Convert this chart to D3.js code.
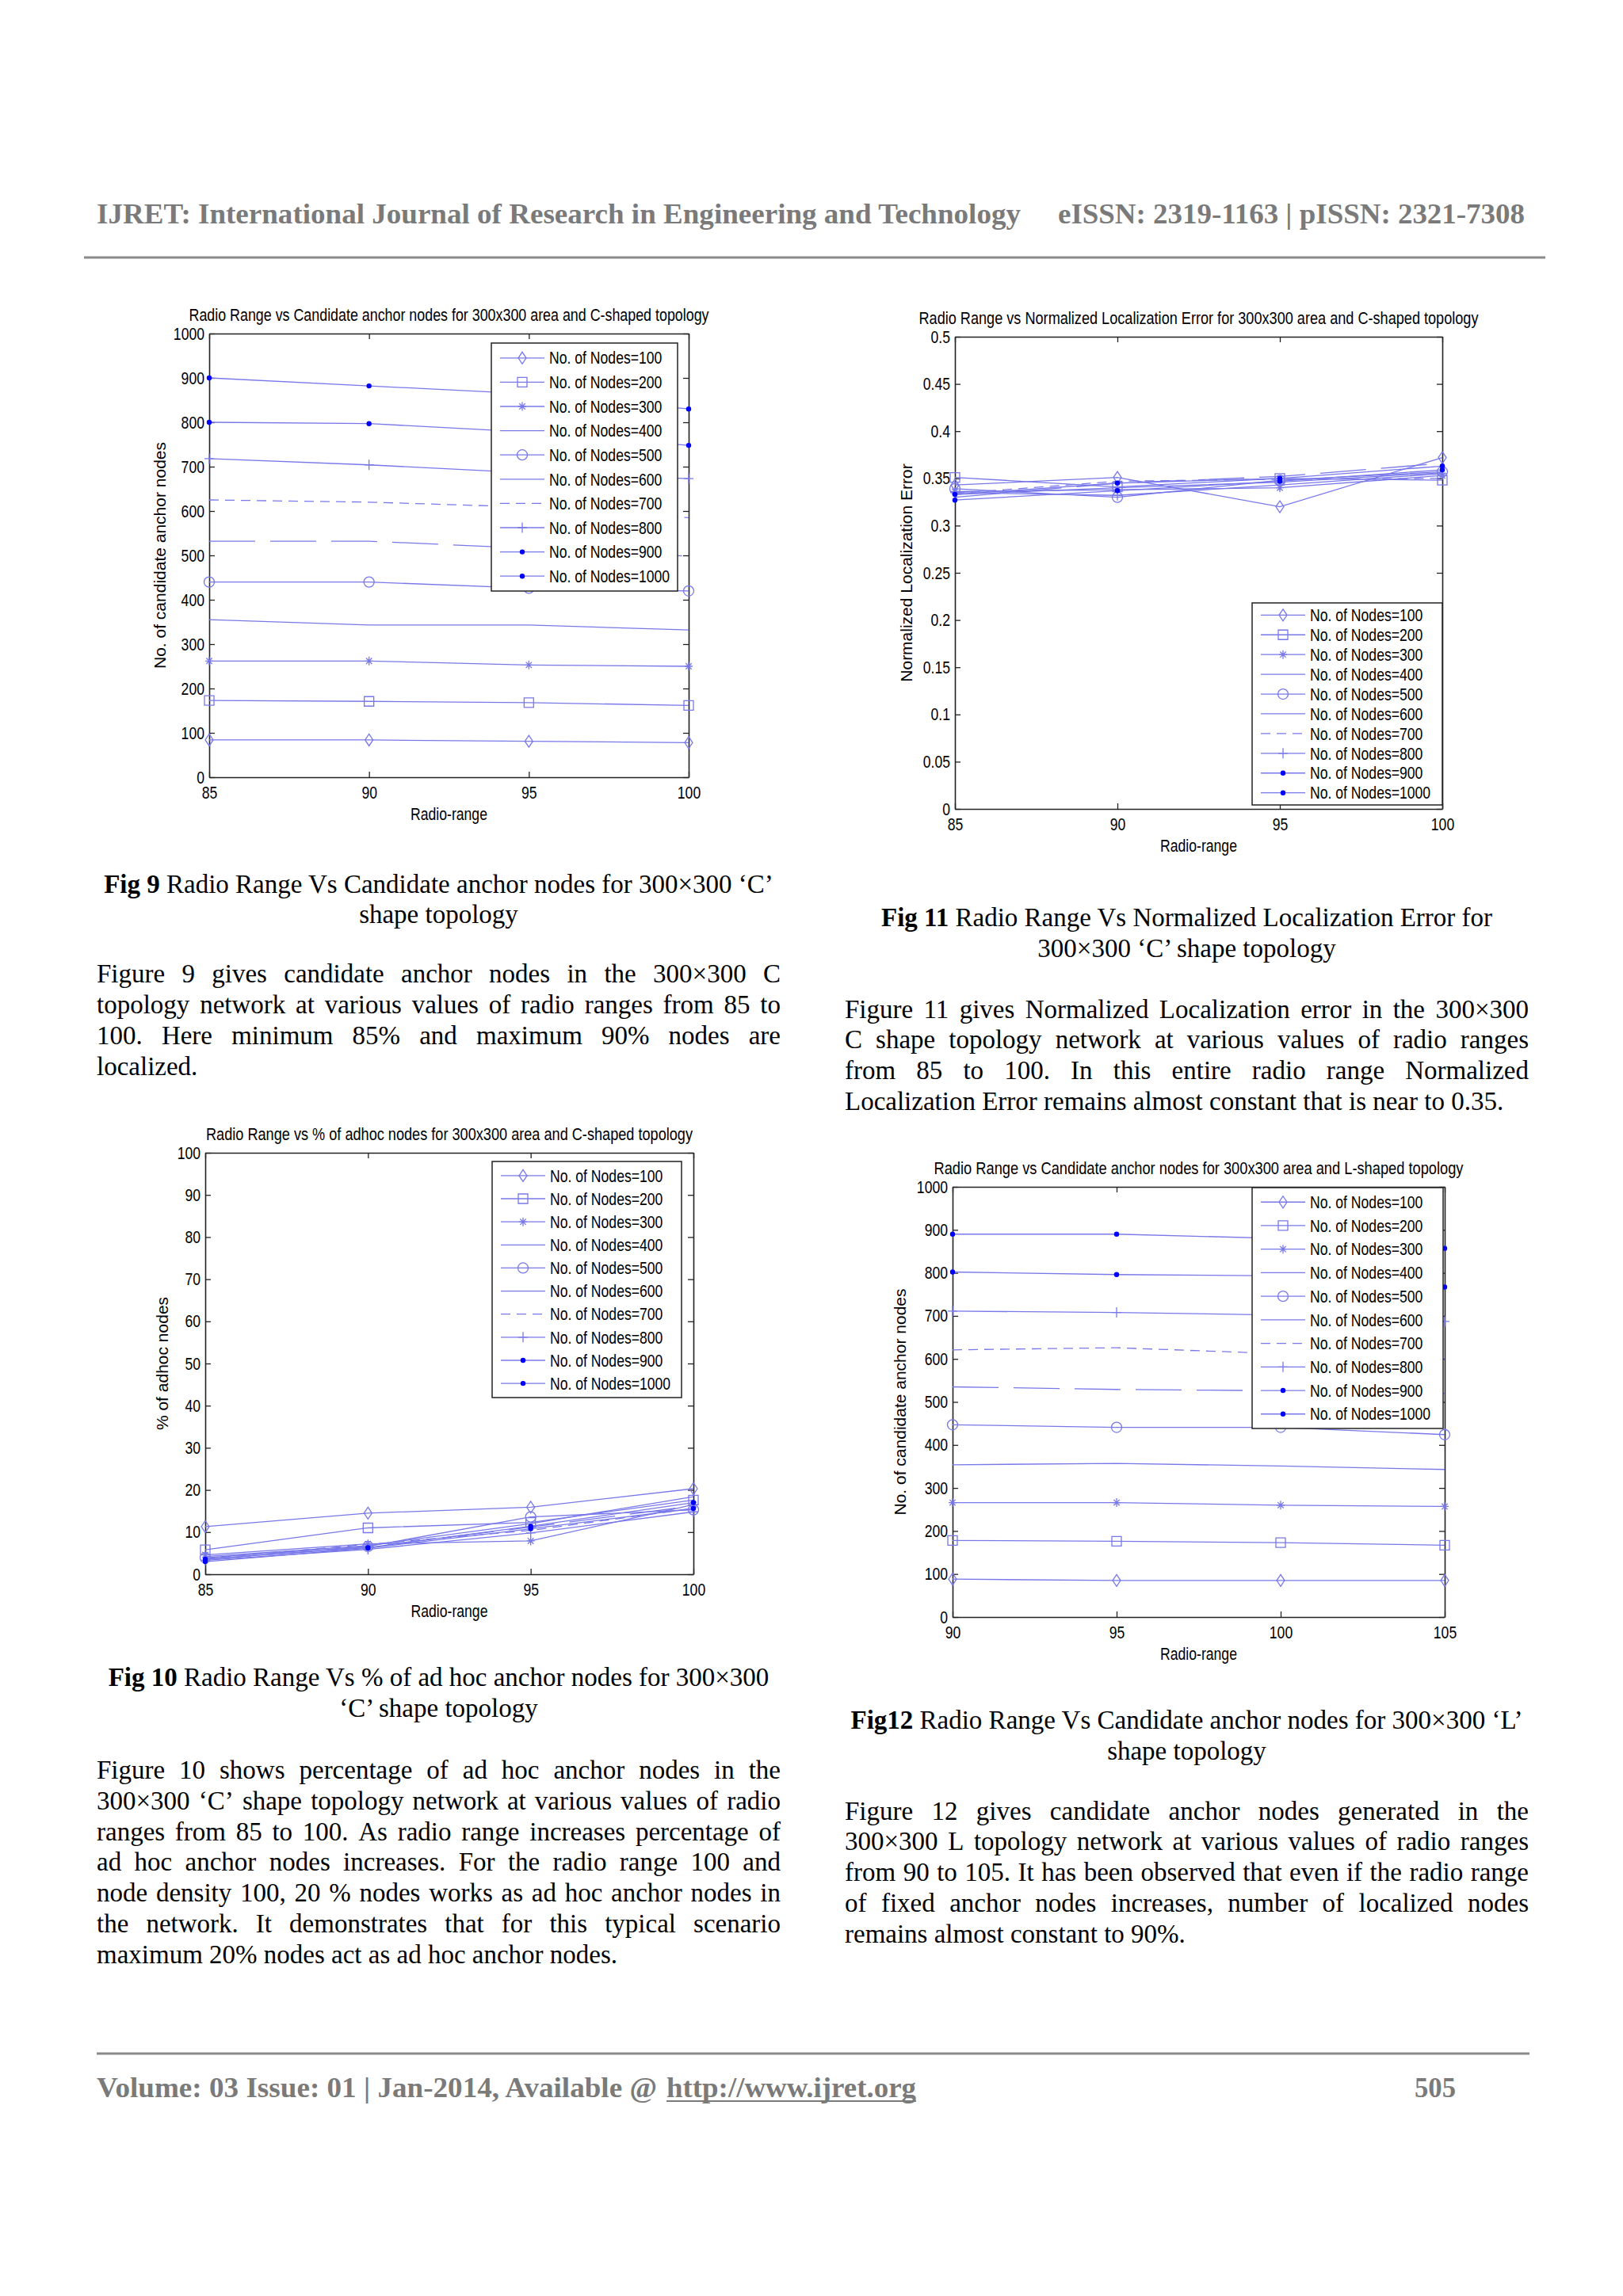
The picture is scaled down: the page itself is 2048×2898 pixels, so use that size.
<!DOCTYPE html>
<html>
<head>
<meta charset="utf-8">
<script src="https://cdn.jsdelivr.net/npm/d3@7"></script>
<style>
  body { margin: 0; background: #fff; }
  svg { display: block; }
</style>
</head>
<body>
<svg id="page" width="2048" height="2898"></svg>
<script>
// ---- data ----
const nodeCounts = [100, 200, 300, 400, 500, 600, 700, 800, 900, 1000];
const seriesLabels = nodeCounts.map(n => `No. of Nodes=${n}`);

const rangeC = [85, 90, 95, 100];
const rangeL = [90, 95, 100, 105];

const countTicks = [0, 100, 200, 300, 400, 500, 600, 700, 800, 900, 1000];
const errorTicks = [0, 0.05, 0.1, 0.15, 0.2, 0.25, 0.3, 0.35, 0.4, 0.45, 0.5];
const percentTicks = [0, 10, 20, 30, 40, 50, 60, 70, 80, 90, 100];

// Fig 9: candidate anchor nodes, C-shaped
const candidateC = [
  [84, 84, 81, 78],
  [173, 171, 168, 162],
  [262, 262, 253, 250],
  [355, 343, 343, 332],
  [440, 440, 426, 420],
  [532, 532, 516, 498],
  [625, 620, 609, 585],
  [718, 704, 686, 673],
  [800, 797, 778, 748],
  [900, 882, 864, 830]
];

// Fig 11: normalized localization error, C-shaped
const errorC = [
  [0.343, 0.351, 0.320, 0.372],
  [0.351, 0.341, 0.350, 0.348],
  [0.336, 0.338, 0.340, 0.353],
  [0.333, 0.340, 0.346, 0.356],
  [0.339, 0.330, 0.348, 0.357],
  [0.330, 0.345, 0.352, 0.366],
  [0.334, 0.347, 0.349, 0.350],
  [0.335, 0.332, 0.343, 0.355],
  [0.333, 0.345, 0.350, 0.363],
  [0.327, 0.337, 0.347, 0.359]
];

// Fig 10: % of adhoc nodes, C-shaped
const adhocC = [
  [11.3, 14.5, 15.9, 20.3],
  [5.8, 11.0, 12.3, 17.6],
  [4.6, 7.2, 7.9, 16.5],
  [4.2, 6.8, 12.0, 18.4],
  [3.9, 6.6, 13.6, 15.3],
  [3.5, 6.5, 11.2, 16.2],
  [3.7, 7.1, 10.4, 15.6],
  [3.3, 5.9, 9.8, 14.8],
  [3.6, 6.3, 11.4, 17.0],
  [3.0, 6.2, 10.8, 15.6]
];

// Fig 12: candidate anchor nodes, L-shaped
const candidateL = [
  [88, 85, 85, 85],
  [178, 176, 173, 167],
  [266, 266, 260, 257],
  [354, 357, 351, 343],
  [447, 441, 441, 424],
  [535, 529, 526, 520],
  [621, 626, 612, 600],
  [711, 708, 702, 687],
  [802, 796, 793, 767],
  [890, 890, 880, 857]
];

// ---- series styling (matlab defaults used in the paper) ----
const markerTypes = ['diamond', 'square', 'star', 'none', 'circle', 'none', 'none', 'plus', 'dot', 'dot'];
const dashTypes = [null, null, null, null, null, '58,19', '12,8', null, null, null];
const LINE = '#7878ea';
const DOT = '#0000ff';
const SANS = '"Liberation Sans", Arial, sans-serif';
const SERIF = '"Liberation Serif", "Times New Roman", serif';
const K = 0.8; // figure text is rendered narrow

const page = d3.select('#page');
page.append('rect').attr('width', 2048).attr('height', 2898).attr('fill', '#fff');

const measure = page.append('text').attr('visibility', 'hidden');

// squeeze text horizontally like the source figures
function squeeze(sel, k = K) {
  sel.each(function () {
    const w = this.getComputedTextLength();
    if (w > 0) d3.select(this).attr('textLength', w * k).attr('lengthAdjust', 'spacingAndGlyphs');
  });
}

function markerPath(type) {
  switch (type) {
    case 'diamond': return 'M0,-7.5L5,0L0,7.5L-5,0Z';
    case 'square': return 'M-6,-6H6V6H-6Z';
    case 'circle': return 'M-6.5,0A6.5,6.5 0 1,0 6.5,0A6.5,6.5 0 1,0 -6.5,0Z';
    case 'plus': return 'M-6,0H6M0,-6.5V6.5';
    case 'star': return 'M-5,0H5M0,-5.5V5.5M-3.7,-3.7L3.7,3.7M-3.7,3.7L3.7,-3.7';
  }
  return null;
}

function drawMarkers(g, type, pts) {
  if (type === 'none') return;
  if (type === 'dot') {
    g.selectAll(null).data(pts).join('circle')
      .attr('cx', d => d[0]).attr('cy', d => d[1]).attr('r', 3.2)
      .attr('fill', DOT);
    return;
  }
  g.selectAll(null).data(pts).join('path')
    .attr('transform', d => `translate(${d[0]},${d[1]})`)
    .attr('d', markerPath(type))
    .attr('fill', 'none')
    .attr('stroke', LINE)
    .attr('stroke-width', 1.3);
}

function drawChart(c) {
  const [x0, y0, x1, y1] = c.box;
  const g = page.append('g');

  const x = d3.scaleLinear([c.xs[0], c.xs[c.xs.length - 1]], [x0, x1]);
  const y = d3.scaleLinear([c.yTicks[0], c.yTicks[c.yTicks.length - 1]], [y1, y0]);

  // title
  g.append('text')
    .attr('x', (x0 + x1) / 2).attr('y', y0 - 16)
    .attr('text-anchor', 'middle')
    .attr('font-family', SANS).attr('font-size', 22)
    .attr('textLength', c.titleW).attr('lengthAdjust', 'spacingAndGlyphs')
    .text(c.title);

  // boxed axes, ticks pointing inwards
  const axes = g.append('g');
  const fmt = d3.format('~g');
  axes.append('g').attr('transform', `translate(0,${y1})`)
    .call(d3.axisBottom(x).tickValues(c.xs).tickSize(-7).tickSizeOuter(0).tickPadding(11).tickFormat(d3.format('d')));
  axes.append('g').attr('transform', `translate(0,${y0})`)
    .call(d3.axisTop(x).tickValues(c.xs).tickSize(-7).tickSizeOuter(0).tickFormat(''));
  axes.append('g').attr('transform', `translate(${x0},0)`)
    .call(d3.axisLeft(y).tickValues(c.yTicks).tickSize(-7).tickSizeOuter(0).tickPadding(6).tickFormat(fmt));
  axes.append('g').attr('transform', `translate(${x1},0)`)
    .call(d3.axisRight(y).tickValues(c.yTicks).tickSize(-7).tickSizeOuter(0).tickFormat(''));
  axes.selectAll('g').attr('font-size', 22).attr('font-family', SANS);
  axes.selectAll('path.domain').attr('stroke', '#222').attr('stroke-width', 1.6);
  axes.selectAll('.tick line').attr('stroke', '#222').attr('stroke-width', 1.3);
  axes.selectAll('text').attr('fill', '#000');
  squeeze(axes.selectAll('text'));

  // axis labels
  const xl = g.append('text')
    .attr('x', (x0 + x1) / 2).attr('y', y1 + 54)
    .attr('text-anchor', 'middle')
    .attr('font-family', SANS).attr('font-size', 22)
    .text('Radio-range');
  squeeze(xl);

  g.append('text')
    .attr('transform', `translate(${x0 - c.yLabelOff},${(y0 + y1) / 2}) rotate(-90)`)
    .attr('text-anchor', 'middle').attr('dy', '0.35em')
    .attr('font-family', SANS).attr('font-size', 21)
    .text(c.yLabel);

  // series
  const line = d3.line().x((d, i) => x(c.xs[i])).y(d => y(d));
  c.ys.forEach((vals, s) => {
    const sg = g.append('g');
    sg.append('path')
      .attr('d', line(vals))
      .attr('fill', 'none')
      .attr('stroke', LINE)
      .attr('stroke-width', 1.3)
      .attr('stroke-dasharray', dashTypes[s]);
    drawMarkers(sg, markerTypes[s], vals.map((v, i) => [x(c.xs[i]), y(v)]));
  });

  // legend
  const [lx0, ly0, lx1, ly1] = c.legend;
  const pad = (ly1 - ly0) * 0.06;
  const ly = d3.scalePoint(seriesLabels, [ly0 + pad, ly1 - pad]);
  const lg = g.append('g');
  lg.append('rect')
    .attr('x', lx0).attr('y', ly0)
    .attr('width', lx1 - lx0).attr('height', ly1 - ly0)
    .attr('fill', '#fff').attr('stroke', '#222').attr('stroke-width', 1.5);
  seriesLabels.forEach((lab, s) => {
    const yy = ly(lab);
    const eg = lg.append('g');
    eg.append('line')
      .attr('x1', lx0 + 11).attr('x2', lx0 + 67)
      .attr('y1', yy).attr('y2', yy)
      .attr('stroke', LINE).attr('stroke-width', 1.3)
      .attr('stroke-dasharray', dashTypes[s]);
    drawMarkers(eg, markerTypes[s], [[lx0 + 39, yy]]);
    const t = eg.append('text')
      .attr('x', lx0 + 73).attr('y', yy).attr('dy', '0.35em')
      .attr('font-family', SANS).attr('font-size', 22)
      .text(lab);
    squeeze(t);
  });
}

const charts = [
  {
    title: 'Radio Range vs Candidate anchor nodes for 300x300 area and C-shaped topology',
    titleW: 656, yLabel: 'No. of candidate anchor nodes', yLabelOff: 62,
    xs: rangeC, ys: candidateC, yTicks: countTicks,
    box: [264, 421, 869, 981], legend: [620, 433, 855, 746]
  },
  {
    title: 'Radio Range vs Normalized Localization Error for 300x300 area and C-shaped topology',
    titleW: 706, yLabel: 'Normalized Localization Error', yLabelOff: 61,
    xs: rangeC, ys: errorC, yTicks: errorTicks,
    box: [1205, 425, 1820, 1021], legend: [1580, 761, 1820, 1016]
  },
  {
    title: 'Radio Range vs % of adhoc nodes for 300x300 area and C-shaped topology',
    titleW: 614, yLabel: '% of adhoc nodes', yLabelOff: 54,
    xs: rangeC, ys: adhocC, yTicks: percentTicks,
    box: [259, 1455, 875, 1987], legend: [621, 1466, 860, 1764]
  },
  {
    title: 'Radio Range vs Candidate anchor nodes for 300x300 area and L-shaped topology',
    titleW: 668, yLabel: 'No. of candidate anchor nodes', yLabelOff: 66,
    xs: rangeL, ys: candidateL, yTicks: countTicks,
    box: [1202, 1498, 1823, 2041], legend: [1580, 1499, 1821, 1803]
  }
];
charts.forEach(drawChart);

// ---- page text ----
measure.attr('font-family', SERIF).attr('font-size', 33);
function wordWidth(w) {
  measure.text(w);
  return measure.node().getComputedTextLength();
}

function textBlock(x, w, baselines, lines) {
  lines.forEach((str, i) => {
    const t = page.append('text')
      .attr('y', baselines[i])
      .attr('font-family', SERIF).attr('font-size', 33).attr('fill', '#000');
    if (i === lines.length - 1) {
      t.attr('x', x).text(str);
      return;
    }
    const words = str.split(' ');
    const widths = words.map(wordWidth);
    const gap = (w - d3.sum(widths)) / (words.length - 1);
    let cx = x;
    words.forEach((wd, j) => {
      t.append('tspan').attr('x', cx).text(wd);
      cx += widths[j] + gap;
    });
  });
}

function caption(cx, baselines, lead, rest, second) {
  const t = page.append('text')
    .attr('x', cx).attr('y', baselines[0]).attr('text-anchor', 'middle')
    .attr('font-family', SERIF).attr('font-size', 33).attr('fill', '#000');
  t.append('tspan').attr('font-weight', 'bold').text(lead);
  t.append('tspan').text(' ' + rest);
  page.append('text')
    .attr('x', cx).attr('y', baselines[1]).attr('text-anchor', 'middle')
    .attr('font-family', SERIF).attr('font-size', 33).attr('fill', '#000')
    .text(second);
}

const leftX = 122, rightX = 1066, colW = 863;
const leftMid = leftX + colW / 2, rightMid = rightX + colW / 2;

caption(leftMid, [1127, 1165], 'Fig 9', 'Radio Range Vs Candidate anchor nodes for 300×300 ‘C’', 'shape topology');
textBlock(leftX, colW, [1240, 1279, 1318, 1357], [
  'Figure 9 gives candidate anchor nodes in the 300×300 C',
  'topology network at various values of radio ranges from 85 to',
  '100. Here minimum 85% and maximum 90% nodes are',
  'localized.'
]);

caption(leftMid, [2128, 2167], 'Fig 10', 'Radio Range Vs % of ad hoc anchor nodes for 300×300', '‘C’ shape topology');
textBlock(leftX, colW, [2245, 2284, 2323, 2361, 2400, 2439, 2478], [
  'Figure 10 shows percentage of ad hoc anchor nodes in the',
  '300×300 ‘C’ shape topology network at various values of radio',
  'ranges from 85 to 100. As radio range increases percentage of',
  'ad hoc anchor nodes increases. For the radio range 100 and',
  'node density 100, 20 % nodes works as ad hoc anchor nodes in',
  'the network. It demonstrates that for this typical scenario',
  'maximum 20% nodes act as ad hoc anchor nodes.'
]);

caption(rightMid, [1169, 1208], 'Fig 11', 'Radio Range Vs Normalized Localization Error for', '300×300 ‘C’ shape topology');
textBlock(rightX, colW, [1285, 1323, 1362, 1401], [
  'Figure 11 gives Normalized Localization error in the 300×300',
  'C shape topology network at various values of radio ranges',
  'from 85 to 100. In this entire radio range Normalized',
  'Localization Error remains almost constant that is near to 0.35.'
]);

caption(rightMid, [2182, 2221], 'Fig12', 'Radio Range Vs Candidate anchor nodes for 300×300 ‘L’', 'shape topology');
textBlock(rightX, colW, [2297, 2335, 2374, 2413, 2452], [
  'Figure 12 gives candidate anchor nodes generated in the',
  '300×300 L topology network at various values of radio ranges',
  'from 90 to 105. It has been observed that even if the radio range',
  'of fixed anchor nodes increases, number of localized nodes',
  'remains almost constant to 90%.'
]);

// ---- running header and footer ----
const GREY = '#7a7a7a';
function greyText(x, y, str, w) {
  return page.append('text')
    .attr('x', x).attr('y', y)
    .attr('font-family', SERIF).attr('font-size', 36).attr('font-weight', 'bold')
    .attr('fill', GREY)
    .attr('textLength', w).attr('lengthAdjust', 'spacingAndGlyphs')
    .text(str);
}
greyText(122, 282, 'IJRET: International Journal of Research in Engineering and Technology', 1166);
greyText(1335, 282, 'eISSN: 2319-1163 | pISSN: 2321-7308', 589);
page.append('line').attr('x1', 106).attr('x2', 1950).attr('y1', 325).attr('y2', 325)
  .attr('stroke', '#8a8a8a').attr('stroke-width', 3);

page.append('line').attr('x1', 122).attr('x2', 1930).attr('y1', 2592).attr('y2', 2592)
  .attr('stroke', '#8a8a8a').attr('stroke-width', 3);
greyText(122, 2647, 'Volume: 03 Issue: 01 | Jan-2014, Available @', 707);
greyText(841, 2647, 'http://www.ijret.org', 315);
page.append('line').attr('x1', 841).attr('x2', 1156).attr('y1', 2652).attr('y2', 2652)
  .attr('stroke', GREY).attr('stroke-width', 2);
greyText(1785, 2647, '505', 52);
</script>
</body>
</html>
